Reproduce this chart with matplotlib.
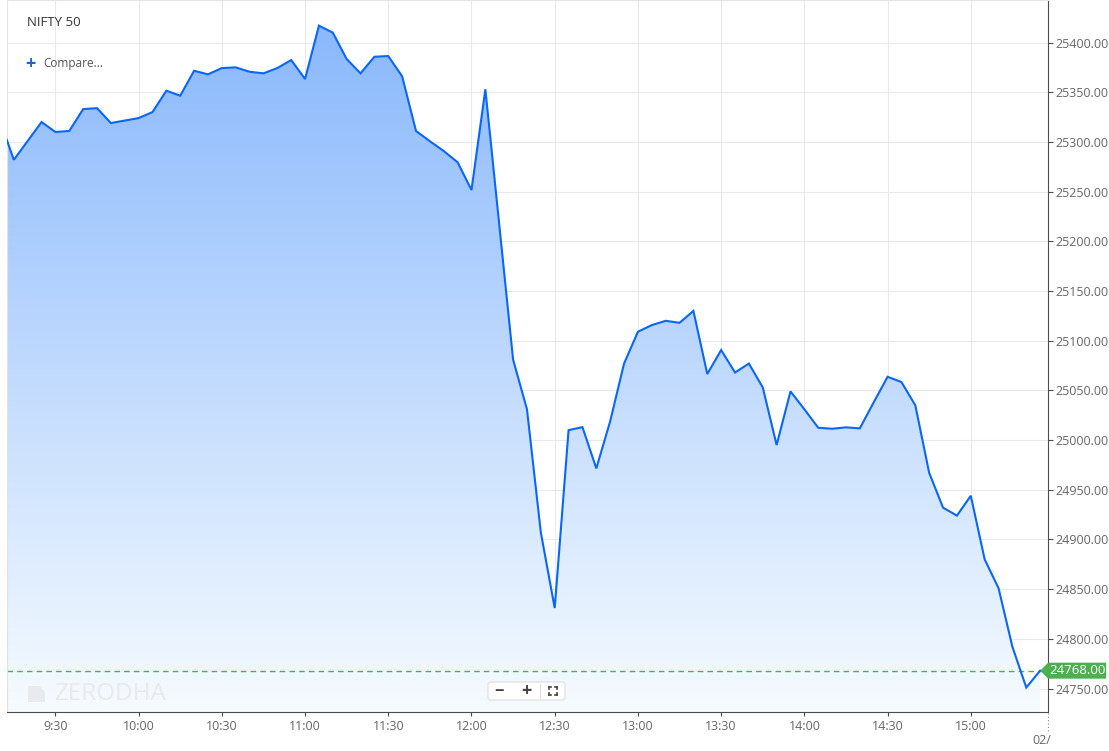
import matplotlib
matplotlib.use("Agg")
import matplotlib.pyplot as plt
import numpy as np
from matplotlib.patches import Polygon, FancyBboxPatch
from matplotlib.lines import Line2D

plt.rcParams['font.family'] = ['Open Sans', 'DejaVu Sans']

# ---------------- data ----------------
times = ["09:12:30", "09:15", "09:20", "09:25", "09:30", "09:35", "09:40", "09:45", "09:50", "09:55",
         "10:00", "10:05", "10:10", "10:15", "10:20", "10:25", "10:30", "10:35", "10:40", "10:45",
         "10:50", "10:55", "11:00", "11:05", "11:10", "11:15", "11:20", "11:25", "11:30", "11:35",
         "11:40", "11:45", "11:50", "11:55", "12:00", "12:05", "12:10", "12:15", "12:20", "12:25",
         "12:30", "12:35", "12:40", "12:45", "12:50", "12:55", "13:00", "13:05", "13:10", "13:15",
         "13:20", "13:25", "13:30", "13:35", "13:40", "13:45", "13:50", "13:55", "14:00", "14:05",
         "14:10", "14:15", "14:20", "14:25", "14:30", "14:35", "14:40", "14:45", "14:50", "14:55",
         "15:00", "15:05", "15:10", "15:15", "15:20", "15:25"]
values = [25302, 25282, 25301, 25320, 25310, 25311, 25333, 25334, 25319, 25321.5,
          25324, 25330, 25351.5, 25346.5, 25371.6, 25368, 25374.3, 25375, 25370.6, 25369,
          25374.3, 25382.4, 25363.3, 25417, 25410, 25383.4, 25369, 25385.7, 25386.4, 25366,
          25311, 25300.7, 25290.8, 25279.5, 25251.6, 25353, 25217, 25081, 25031, 24907,
          24831, 25010, 25013, 24971.5, 25019, 25077, 25109, 25115.7, 25120, 25118,
          25130, 25066.5, 25090.6, 25068, 25077, 25053, 24995, 25049, 25031, 25012.4,
          25011.4, 25012.8, 25011.8, 25038, 25063.7, 25058.4, 25035, 24967, 24932, 24924,
          24944, 24880, 24851, 24792, 24751, 24768]
last_price = 24768.00
y_ticks = [24750, 24800, 24850, 24900, 24950, 25000, 25050, 25100,
           25150, 25200, 25250, 25300, 25350, 25400]
x_tick_labels = ["9:30", "10:00", "10:30", "11:00", "11:30", "12:00",
                 "12:30", "13:00", "13:30", "14:00", "14:30", "15:00"]
title = "NIFTY 50"


def to_min(s):
    p = s.split(":")
    m = int(p[0]) * 60 + int(p[1])
    if len(p) > 2:
        m += int(p[2]) / 60.0
    return m


t = np.array([to_min(s) for s in times])
v = np.array(values, dtype=float)
xt = [to_min(s) for s in x_tick_labels]

# ---------------- figure ----------------
W, H = 1109, 751
fig = plt.figure(figsize=(W / 100, H / 100), dpi=100)
fig.patch.set_facecolor('white')


def fx(x):
    return x / W


def fy(y):
    return 1 - y / H


ax = fig.add_axes([fx(7), fy(712), fx(1047.5) - fx(7), fy(0) - fy(712)])
xmin, xmax = 552.55, 927.65
ymin, ymax = 24726.4, 25442.8
ax.set_xlim(xmin, xmax)
ax.set_ylim(ymin, ymax)
ax.set_facecolor('white')

# gridlines
ax.set_yticks(y_ticks)
ax.set_xticks(xt)
ax.grid(True, color='#e9e9e9', linewidth=0.75, zorder=0)
ax.set_axisbelow(True)

# gradient fill under line
grad = np.linspace(0, 1, 256).reshape(-1, 1)
top = np.array([134, 182, 252]) / 255.0
bot = np.array([246, 251, 255]) / 255.0
img = top[None, None, :] * (1 - grad[:, :, None]) + bot[None, None, :] * grad[:, :, None]
im = ax.imshow(img, extent=(xmin, xmax, ymin, ymax), origin='upper', aspect='auto',
               zorder=1, interpolation='bilinear')
verts = [(t[0], ymin)] + list(zip(t, v)) + [(t[-1], ymin)]
poly = Polygon(verts, closed=True, facecolor='none', edgecolor='none')
ax.add_patch(poly)
im.set_clip_path(poly)
ax.set_xlim(xmin, xmax)
ax.set_ylim(ymin, ymax)

# line
ax.plot(t, v, color='#0a66f5', linewidth=1.5, zorder=3, solid_joinstyle='miter')

# last price dashed line
ax.axhline(last_price, color='#45b545', linewidth=1.0, dashes=(4, 3), zorder=2)

# spines
for side in ['left', 'top']:
    ax.spines[side].set_color('#e3e3e3')
    ax.spines[side].set_linewidth(0.8)
for side in ['right', 'bottom']:
    ax.spines[side].set_color('#4d4d4d')
    ax.spines[side].set_linewidth(0.8)

ax.yaxis.tick_right()
ax.set_yticklabels([f"{y:.2f}" for y in y_ticks])
ax.set_xticklabels(x_tick_labels)
ax.tick_params(axis='y', which='both', direction='out', length=3.5, width=0.8, color='#4d4d4d',
               labelcolor='#666666', labelsize=9, pad=2)
ax.tick_params(axis='x', which='both', direction='out', length=3, width=0.8, color='#4d4d4d',
               labelcolor='#666666', labelsize=9, pad=3)
ax.tick_params(left=False, top=False)

# title and compare
fig.text(fx(27), fy(22), title, fontsize=9.5, color='#333333', va='center', ha='left')
fig.text(fx(25.5), fy(64), "+", fontsize=13, color='#1a66d6', va='center', ha='left', fontweight='bold')
fig.text(fx(43), fy(63), "Compare...", fontsize=8.5, color='#555555', va='center', ha='left')

# watermark
fig.text(fx(54), fy(694), "ZERODHA", fontsize=17.5, color='#e8eaed', va='center', ha='left',
         fontweight='normal', zorder=4)
logo = Polygon([(fx(28), fy(686)), (fx(39), fy(686)), (fx(45), fy(692)), (fx(45), fy(702)),
                (fx(28), fy(702))], closed=True, transform=fig.transFigure,
               facecolor='#e8eaed', edgecolor='none', zorder=4)
fig.add_artist(logo)

# zoom control box
box = FancyBboxPatch((fx(488), fy(700)), fx(565) - fx(488), fy(682) - fy(700),
                     boxstyle="round,pad=0,rounding_size=0.003", transform=fig.transFigure,
                     facecolor='white', edgecolor='#dddddd', linewidth=0.8, zorder=5)
fig.add_artist(box)
fig.text(fx(499.5), fy(691), "−", fontsize=12, color='#444444', ha='center', va='center',
         fontweight='bold', zorder=6)
fig.text(fx(526), fy(691), "+", fontsize=13, color='#444444', ha='center', va='center',
         fontweight='bold', zorder=6)
fig.add_artist(Line2D([fx(540), fx(540)], [fy(684), fy(698)], transform=fig.transFigure,
                      color='#dddddd', linewidth=0.8, zorder=6))
# fullscreen corners icon
cx, cy, s, c = 553, 690.5, 4, 2
for dx, dy in [(-1, -1), (1, -1), (-1, 1), (1, 1)]:
    x0, y0 = cx + dx * s, cy + dy * s
    fig.add_artist(Line2D([fx(x0), fx(x0 - dx * c)], [fy(y0), fy(y0)], transform=fig.transFigure,
                          color='#444444', linewidth=1.2, zorder=6))
    fig.add_artist(Line2D([fx(x0), fx(x0)], [fy(y0), fy(y0 - dy * c)], transform=fig.transFigure,
                          color='#444444', linewidth=1.2, zorder=6))

# last price label (arrow box) anchored to the last data point
fig.canvas.draw()
px, py = ax.transData.transform((t[-1], last_price))
lab_h = 16
lab = Polygon([(px, py), (px + 8, py + lab_h / 2), (px + 66, py + lab_h / 2),
               (px + 66, py - lab_h / 2), (px + 8, py - lab_h / 2)], closed=True,
              transform=None, facecolor='#4caf50', edgecolor='none', zorder=10, clip_on=False)
fig.add_artist(lab)
fig.text((px + 37) / W, py / H, f"{last_price:.2f}", fontsize=9.5, color='white',
         ha='center', va='center', zorder=11)

# date label at the right end of the time axis
fig.add_artist(Line2D([fx(1047.5), fx(1047.5)], [fy(713), fy(731)], transform=fig.transFigure,
                      color='#888888', linewidth=0.8, linestyle=(0, (1, 2)), zorder=6))
fig.text(fx(1032), fy(740), "02/", fontsize=9, color='#666666', ha='left', va='center')

fig.savefig("out.png", dpi=100, facecolor='white')
